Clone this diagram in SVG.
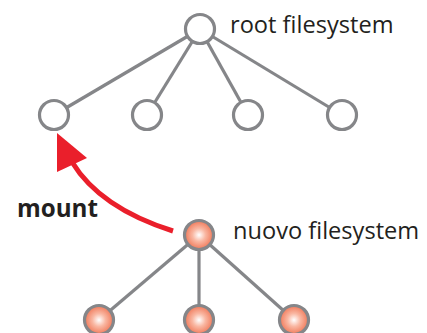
<svg xmlns="http://www.w3.org/2000/svg" width="427" height="333" viewBox="0 0 427 333">
<style>
.edge{stroke:#858689;stroke-width:3.2;fill:none}
.node{stroke:#858689;stroke-width:3.2;fill:#fff}
.new{stroke:#858689;stroke-width:3.2;fill:url(#g)}
.lbl{font-family:"Open Sans","Noto Sans",sans-serif;font-size:23.6px;fill:#231f20}
.b{font-weight:bold;font-size:24.2px}
</style>
<defs>
<radialGradient id="g" cx="0.5" cy="0.5" r="0.5">
<stop offset="0" stop-color="#ffffff"/>
<stop offset="0.45" stop-color="#f9b7a2"/>
<stop offset="1" stop-color="#f07858"/>
</radialGradient>
</defs>
<g id="connectors">
<line class="edge" x1="200" y1="29" x2="54" y2="115"/>
<line class="edge" x1="200" y1="29" x2="147" y2="115"/>
<line class="edge" x1="200" y1="29" x2="248" y2="115"/>
<line class="edge" x1="200" y1="29" x2="342" y2="115"/>
<line class="edge" x1="199" y1="235" x2="99" y2="320"/>
<line class="edge" x1="199" y1="235" x2="199" y2="320"/>
<line class="edge" x1="199" y1="235" x2="294" y2="320"/>
<path d="M173,231 Q100,208 72,162" stroke="#ea1f2b" stroke-width="5" fill="none"/>
<polygon points="57,133 57,172 87,158" fill="#ea1f2b"/>
</g>
<g id="root"><circle class="node" cx="200" cy="29" r="14.5"/><text class="lbl" x="230" y="33">root filesystem</text></g>
<g id="c1"><circle class="node" cx="54" cy="115" r="14.5"/></g>
<g id="c2"><circle class="node" cx="147" cy="115" r="14.5"/></g>
<g id="c3"><circle class="node" cx="248" cy="115" r="14.5"/></g>
<g id="c4"><circle class="node" cx="342" cy="115" r="14.5"/></g>
<g id="mountlbl"><text class="lbl b" x="17" y="217">mount</text></g>
<g id="newroot"><circle class="new" cx="199" cy="235" r="14.5"/><text class="lbl" x="233" y="239">nuovo filesystem</text></g>
<g id="n1"><circle class="new" cx="99" cy="320" r="14.5"/></g>
<g id="n2"><circle class="new" cx="199" cy="320" r="14.5"/></g>
<g id="n3"><circle class="new" cx="294" cy="320" r="14.5"/></g>
</svg>
